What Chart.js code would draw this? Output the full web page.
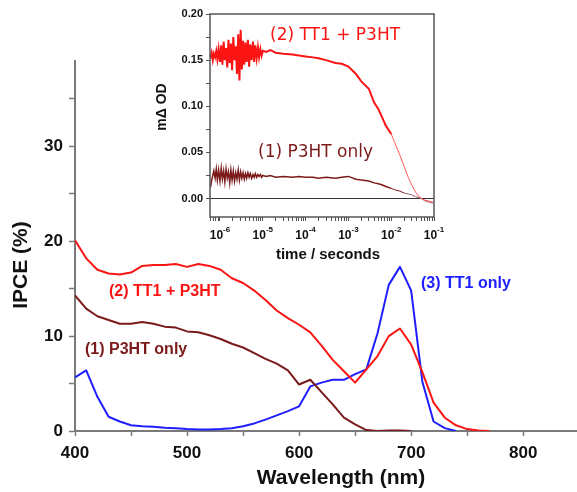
<!DOCTYPE html>
<html>
<head>
<meta charset="utf-8">
<script src="https://cdn.jsdelivr.net/npm/chart.js@4.4.1/dist/chart.umd.min.js"></script>
<style>
  html, body { margin: 0; padding: 0; background: #fff; }
  #wrap { position: relative; width: 577px; height: 492px; }
  #mainChart { position: absolute; left: 0; top: 0; }
  #insetChart { position: absolute; left: 150px; top: 0; }
</style>
</head>
<body>
<div id="wrap">
  <canvas id="mainChart" width="577" height="492"></canvas>
  <canvas id="insetChart" width="295" height="272"></canvas>
</div>
<script>
// main plot: IPCE spectra
const wavelengths = [400, 410, 420, 430, 440, 450, 460, 470, 480, 490, 500, 510, 520, 530, 540, 550, 560, 570, 580, 590,
    600, 610, 620, 630, 640, 650, 660, 670, 680, 690, 700, 710, 720, 730, 740, 750, 760, 770];
const ipceP3HT = [14.3, 12.9, 12.1, 11.7, 11.3, 11.3, 11.5, 11.3, 11.0, 10.9, 10.5, 10.4, 10.1, 9.7, 9.2, 8.8, 8.2, 7.6, 7.1, 6.4,
    4.9, 5.4, 4.1, 2.8, 1.4, 0.7, 0.1, 0, 0.05, 0.05, 0];
const ipceBlend = [20.1, 18.2, 17.0, 16.6, 16.5, 16.7, 17.4, 17.5, 17.5, 17.6, 17.3, 17.6, 17.4, 17.0, 16.1, 15.6, 14.8, 13.8, 12.7, 11.9,
    11.2, 10.4, 9.0, 7.5, 6.3, 5.1, 6.5, 7.9, 10.0, 10.8, 9.1, 6.2, 3.0, 1.4, 0.6, 0.2, 0.05, 0];
const ipceTT1 = [5.65, 6.4, 3.6, 1.5, 1.0, 0.6, 0.5, 0.45, 0.35, 0.3, 0.2, 0.17, 0.17, 0.2, 0.3, 0.5, 0.8, 1.2, 1.65, 2.1,
    2.6, 4.7, 5.1, 5.4, 5.4, 6.0, 6.5, 10.3, 15.4, 17.3, 14.8, 5.2, 1.0, 0.3, 0];
const xTicks = [400, 450, 500, 550, 600, 650, 700, 750, 800];
const yTicks = [0, 5, 10, 15, 20, 25, 30, 35];

// inset: transient absorption decays
const decayTimes = [6.0e-7, 6.4e-7, 6.8e-7, 7.2e-7, 7.7e-7, 8.2e-7, 8.7e-7, 9.3e-7, 1.0e-6, 1.07e-6, 1.14e-6, 1.22e-6,
    1.3e-6, 1.39e-6, 1.48e-6, 1.58e-6, 1.69e-6, 1.8e-6, 1.92e-6, 2.05e-6, 2.19e-6, 2.34e-6, 2.5e-6, 2.67e-6,
    2.85e-6, 3.04e-6, 3.25e-6, 3.47e-6, 3.7e-6, 3.95e-6, 4.2e-6, 4.5e-6, 4.8e-6, 5.1e-6, 5.5e-6, 5.9e-6,
    6.3e-6, 6.7e-6, 7.2e-6, 7.7e-6, 8.2e-6, 8.8e-6, 9.4e-6, 1.0e-5,
    1.2e-5, 1.5e-5, 2e-5, 3e-5, 5e-5, 7e-5, 1e-4, 1.5e-4, 2e-4, 3e-4, 5e-4, 7e-4, 1e-3, 1.5e-3, 2e-3, 3e-3,
    4e-3, 5e-3, 6e-3, 7.5e-3, 1e-2, 1.3e-2, 1.6e-2, 2e-2, 2.5e-2, 3e-2, 3.7e-2, 4.5e-2, 5.5e-2, 6.5e-2, 8e-2, 9.5e-2];
const decayBlend = [0.152, 0.158, 0.150, 0.157, 0.153, 0.160, 0.151, 0.162, 0.148, 0.166, 0.145, 0.170,
    0.150, 0.163, 0.142, 0.172, 0.147, 0.168, 0.139, 0.175, 0.150, 0.165, 0.135, 0.178,
    0.128, 0.183, 0.140, 0.171, 0.145, 0.169, 0.148, 0.172, 0.143, 0.167, 0.150, 0.170,
    0.148, 0.166, 0.152, 0.164, 0.153, 0.162, 0.155, 0.160,
    0.159, 0.161, 0.158, 0.157, 0.156, 0.155, 0.154, 0.153, 0.152, 0.150, 0.147, 0.146, 0.143, 0.135, 0.127, 0.119,
    0.104, 0.097, 0.089, 0.079, 0.070, 0.057, 0.047, 0.035, 0.023, 0.015, 0.007, 0.002, -0.001, -0.002, -0.003, -0.004];
const decayP3HT = [0.012, 0.020, 0.025, 0.030, 0.022, 0.032, 0.020, 0.031, 0.019, 0.033, 0.021, 0.030,
    0.018, 0.032, 0.022, 0.029, 0.017, 0.031, 0.020, 0.030, 0.019, 0.028, 0.021, 0.031,
    0.020, 0.029, 0.022, 0.028, 0.021, 0.027, 0.022, 0.028, 0.023, 0.027, 0.022, 0.026,
    0.023, 0.027, 0.023, 0.026, 0.024, 0.026, 0.023, 0.025,
    0.024, 0.025, 0.023, 0.024, 0.023, 0.024, 0.023, 0.023, 0.022, 0.023, 0.022, 0.023, 0.024, 0.021, 0.020, 0.019,
    0.017, 0.016, 0.015, 0.013, 0.011, 0.009, 0.008, 0.006, 0.005, 0.004, 0.002, 0.001, -0.001, -0.003, -0.004, -0.005];
const decadeExponents = [-6, -5, -4, -3, -2, -1];
const insetYTicks = [0, 0.025, 0.05, 0.075, 0.1, 0.125, 0.15, 0.175, 0.2];

const labelP3HT = '(1) P3HT only';
const labelBlend = '(2) TT1 + P3HT';
const labelTT1 = '(3) TT1 only';

const RED = '#fa1414';
const DARKRED = '#7b1a1a';
const BLUE = '#1e1eff';
const FONT = '"Liberation Sans", Arial, sans-serif';

function puntos(xs, ys) {
    return ys.map((y, i) => ({ x: xs[i], y: y }));
}

const decoPrincipal = {
    id: 'decoPrincipal',
    afterDraw(chart) {
        const ctx = chart.ctx;
        ctx.save();
        ctx.fillStyle = '#111';
        ctx.textAlign = 'center';
        ctx.textBaseline = 'middle';
        ctx.font = 'bold 21px ' + FONT;
        ctx.fillText('Wavelength (nm)', 341, 478);
        ctx.save();
        ctx.translate(21, 265);
        ctx.rotate(-Math.PI / 2);
        ctx.fillText('IPCE (%)', 0, 0);
        ctx.restore();

        ctx.font = 'bold 16px ' + FONT;
        ctx.textAlign = 'left';
        ctx.fillStyle = RED;
        ctx.fillText(labelBlend, 109, 292);
        ctx.fillStyle = DARKRED;
        ctx.fillText(labelP3HT, 85, 350);
        ctx.fillStyle = BLUE;
        ctx.fillText(labelTT1, 421, 284);
        ctx.restore();
    }
};

const decoInset = {
    id: 'decoInset',
    afterDraw(chart) {
        const { ctx, chartArea: a, scales } = chart;
        ctx.save();
        ctx.strokeStyle = '#555';
        ctx.lineWidth = 1.5;
        ctx.strokeRect(a.left, a.top, a.right - a.left, a.bottom - a.top);

        ctx.fillStyle = '#111';
        ctx.textBaseline = 'alphabetic';
        ctx.textAlign = 'left';
        decadeExponents.forEach(e => {
            const x = scales.x.getPixelForValue(Math.pow(10, e));
            ctx.font = 'bold 12px ' + FONT;
            const w1 = ctx.measureText('10').width;
            ctx.font = 'bold 8px ' + FONT;
            const w2 = ctx.measureText(String(e)).width;
            const x0 = x - (w1 + w2) / 2;
            ctx.font = 'bold 12px ' + FONT;
            ctx.fillText('10', x0, 239);
            ctx.font = 'bold 8px ' + FONT;
            ctx.fillText(String(e), x0 + w1, 232);
        });

        ctx.textAlign = 'center';
        ctx.textBaseline = 'middle';
        ctx.font = 'bold 15px ' + FONT;
        ctx.fillText('time / seconds', 178, 255);
        ctx.save();
        ctx.translate(12, 107);
        ctx.rotate(-Math.PI / 2);
        ctx.font = 'bold 14px ' + FONT;
        ctx.fillText('m\u0394 OD', 0, 0);
        ctx.restore();

        ctx.font = '17px "DejaVu Sans", sans-serif';
        ctx.textAlign = 'left';
        ctx.fillStyle = RED;
        ctx.fillText(labelBlend, 120, 36);
        ctx.fillStyle = DARKRED;
        ctx.fillText(labelP3HT, 108, 153);
        ctx.restore();
    }
};

function crearPrincipal() {
    const ctx = document.getElementById('mainChart').getContext('2d');
    new Chart(ctx, {
        type: 'line',
        data: {
            datasets: [
                { label: labelBlend, data: puntos(wavelengths, ipceBlend), borderColor: RED, borderWidth: 2 },
                { label: labelP3HT, data: puntos(wavelengths, ipceP3HT), borderColor: DARKRED, borderWidth: 2 },
                { label: labelTT1, data: puntos(wavelengths, ipceTT1), borderColor: BLUE, borderWidth: 2 }
            ]
        },
        options: {
            responsive: false,
            animation: false,
            devicePixelRatio: 1,
            layout: { padding: { top: 61, right: 0, left: 0, bottom: 0 } },
            elements: { point: { radius: 0 }, line: { tension: 0, borderJoinStyle: 'round' } },
            plugins: { legend: { display: false }, tooltip: { enabled: false } },
            scales: {
                x: {
                    type: 'linear',
                    min: 400,
                    max: 848,
                    afterFit: s => { s.height = 61; },
                    afterBuildTicks: s => { s.ticks = xTicks.map(v => ({ value: v })); },
                    border: { display: true, color: '#7a7a7a', width: 2 },
                    grid: { drawOnChartArea: false, drawTicks: true, tickLength: 5, color: '#7a7a7a', tickWidth: 1.5 },
                    ticks: {
                        autoSkip: false,
                        maxRotation: 0,
                        padding: 7,
                        color: '#111',
                        font: { family: FONT, size: 17, weight: 'bold' },
                        callback: v => (v % 100 === 0 ? String(v) : '')
                    }
                },
                y: {
                    min: 0,
                    max: 39,
                    afterFit: s => { s.width = 75; },
                    afterBuildTicks: s => { s.ticks = yTicks.map(v => ({ value: v })); },
                    border: { display: true, color: '#7a7a7a', width: 2 },
                    grid: { drawOnChartArea: false, drawTicks: true, tickLength: 6, color: '#7a7a7a', tickWidth: 1.5 },
                    ticks: {
                        autoSkip: false,
                        padding: 6,
                        color: '#111',
                        font: { family: FONT, size: 17, weight: 'bold' },
                        callback: v => (v % 10 === 0 ? String(v) : '')
                    }
                }
            }
        },
        plugins: [decoPrincipal]
    });
}

function crearInset() {
    const ctx = document.getElementById('insetChart').getContext('2d');
    new Chart(ctx, {
        type: 'line',
        data: {
            datasets: [
                {
                    label: labelBlend,
                    data: puntos(decayTimes, decayBlend),
                    borderColor: RED,
                    borderWidth: 2,
                    segment: {
                        borderWidth: c => (c.p0.parsed.x >= 0.01 ? 1 : 2),
                        borderColor: c => (c.p0.parsed.x >= 0.01 ? '#ff5a5a' : RED)
                    }
                },
                {
                    label: labelP3HT,
                    data: puntos(decayTimes, decayP3HT),
                    borderColor: DARKRED,
                    borderWidth: 1.5,
                    segment: {
                        borderWidth: c => (c.p0.parsed.x >= 0.01 ? 1 : 1.5),
                        borderColor: c => (c.p0.parsed.x >= 0.02 ? '#a05a6a' : DARKRED)
                    }
                }
            ]
        },
        options: {
            responsive: false,
            animation: false,
            devicePixelRatio: 1,
            layout: { padding: { top: 14, right: 11, left: 0, bottom: 0 } },
            elements: { point: { radius: 0 }, line: { tension: 0 } },
            plugins: { legend: { display: false }, tooltip: { enabled: false } },
            scales: {
                x: {
                    type: 'logarithmic',
                    min: 5.85e-7,
                    max: 0.1,
                    afterFit: s => { s.height = 55; },
                    afterBuildTicks: s => {
                        const marcas = [];
                        for (let e = -7; e <= -1; e++) {
                            for (let m = 1; m <= 9; m++) {
                                const v = m * Math.pow(10, e);
                                if (v >= s.min * 0.999 && v <= s.max * 1.001) marcas.push({ value: v, major: m === 1 });
                            }
                        }
                        s.ticks = marcas;
                    },
                    border: { display: false },
                    grid: {
                        drawOnChartArea: false,
                        drawTicks: true,
                        tickLength: 4,
                        tickColor: '#555',
                        tickWidth: 1
                    },
                    ticks: { display: false, autoSkip: false }
                },
                y: {
                    min: -0.02,
                    max: 0.2,
                    afterFit: s => { s.width = 60; },
                    afterBuildTicks: s => { s.ticks = insetYTicks.map(v => ({ value: v })); },
                    border: { display: false },
                    grid: {
                        drawOnChartArea: true,
                        drawTicks: true,
                        tickLength: 4,
                        color: c => (c.tick && Math.abs(c.tick.value) < 1e-9 ? '#333' : 'rgba(0,0,0,0)'),
                        lineWidth: 1,
                        tickColor: '#555'
                    },
                    ticks: {
                        autoSkip: false,
                        padding: 3,
                        color: '#111',
                        font: { family: FONT, size: 11, weight: 'bold' },
                        callback: v => (Math.abs(v / 0.05 - Math.round(v / 0.05)) < 1e-6 ? v.toFixed(2) : '')
                    }
                }
            }
        },
        plugins: [decoInset]
    });
}

document.addEventListener('DOMContentLoaded', () => {
    crearPrincipal();
    crearInset();
});
</script>
</body>
</html>
